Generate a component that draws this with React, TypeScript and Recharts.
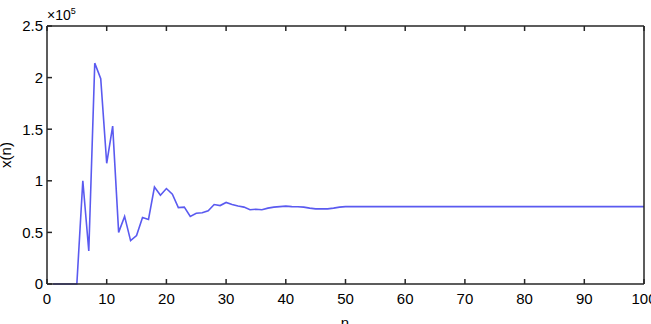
import { LineChart, Line, XAxis, YAxis, Customized } from 'recharts';

// sample index n
const nValues = [
  1, 2, 3, 4, 5, 6, 7, 8, 9, 10, 11, 12, 13, 14, 15, 16, 17, 18, 19, 20,
  21, 22, 23, 24, 25, 26, 27, 28, 29, 30, 31, 32, 33, 34, 35, 36, 37, 38, 39, 40,
  41, 42, 43, 44, 45, 46, 47, 48, 49, 50, 51, 52, 53, 54, 55, 56, 57, 58, 59, 60,
  61, 62, 63, 64, 65, 66, 67, 68, 69, 70, 71, 72, 73, 74, 75, 76, 77, 78, 79, 80,
  81, 82, 83, 84, 85, 86, 87, 88, 89, 90, 91, 92, 93, 94, 95, 96, 97, 98, 99, 100,
];

// x(n)
const xnValues = [
  0, 0, 0, 0, 0, 100000, 32000, 214000, 199000, 117000,
  153000, 50000, 65500, 42000, 47000, 64500, 62500, 94000, 86000, 92500,
  87000, 74000, 74500, 65500, 68500, 69000, 71000, 77000, 76000, 79000,
  77000, 75500, 74500, 72000, 72500, 72000, 73500, 74500, 75000, 75500,
  75000, 74800, 74500, 73500, 72800, 72800, 72800, 73500, 74500, 75000,
  75000, 75000, 75000, 75000, 75000, 75000, 75000, 75000, 75000, 75000,
  75000, 75000, 75000, 75000, 75000, 75000, 75000, 75000, 75000, 75000,
  75000, 75000, 75000, 75000, 75000, 75000, 75000, 75000, 75000, 75000,
  75000, 75000, 75000, 75000, 75000, 75000, 75000, 75000, 75000, 75000,
  75000, 75000, 75000, 75000, 75000, 75000, 75000, 75000, 75000, 75000,
];

const xTicks = [0, 10, 20, 30, 40, 50, 60, 70, 80, 90, 100];
const yTicks = [0, 50000, 100000, 150000, 200000, 250000];

const data = nValues.map((n, i) => ({ n, xn: xnValues[i] }));

const font = '"Liberation Sans", Arial, sans-serif';
const axisColor = '#262626';
const tickStyle = { fontSize: 15, fill: '#000', fontFamily: font };

function Annotations() {
  return (
    <g fontFamily={font} fill="#000">
      <text x={47} y={20} fontSize={14}>
        ×10
        <tspan dy={-6} fontSize={9}>5</tspan>
      </text>
      <text x={11} y={155} fontSize={15} textAnchor="middle" transform="rotate(-90 11 155)">
        x(n)
      </text>
      <text x={345} y={328} fontSize={15} textAnchor="middle">
        n
      </text>
    </g>
  );
}

export default function App() {
  return (
    <div style={{ position: 'absolute', left: 0, top: 0, background: '#fff' }}>
      <LineChart width={651} height={324} data={data} margin={{ top: 25, right: 6, left: 0, bottom: 0 }}>
        <XAxis
          xAxisId="bottom"
          dataKey="n"
          type="number"
          domain={[0, 100]}
          ticks={xTicks}
          height={40}
          tickSize={-5}
          tickMargin={14}
          tick={tickStyle}
          stroke={axisColor}
          strokeWidth={1.5}
          interval={0}
        />
        <XAxis
          xAxisId="top"
          orientation="top"
          dataKey="n"
          type="number"
          domain={[0, 100]}
          ticks={xTicks}
          height={1}
          tickSize={-5}
          tickFormatter={() => ''}
          stroke={axisColor}
          strokeWidth={1.5}
          interval={0}
        />
        <YAxis
          yAxisId="left"
          type="number"
          domain={[0, 250000]}
          ticks={yTicks}
          width={47}
          tickSize={-5}
          tickMargin={9}
          tick={tickStyle}
          tickFormatter={(v: number) => `${v / 100000}`}
          stroke={axisColor}
          strokeWidth={1.5}
          interval={0}
        />
        <YAxis
          yAxisId="right"
          orientation="right"
          type="number"
          domain={[0, 250000]}
          ticks={yTicks}
          width={1}
          tickSize={-5}
          tickFormatter={() => ''}
          stroke={axisColor}
          strokeWidth={1.5}
          interval={0}
        />
        <Line
          xAxisId="bottom"
          yAxisId="left"
          type="linear"
          dataKey="xn"
          stroke="#5a5af0"
          strokeWidth={1.6}
          dot={false}
          isAnimationActive={false}
        />
        <Customized component={Annotations} />
      </LineChart>
    </div>
  );
}
